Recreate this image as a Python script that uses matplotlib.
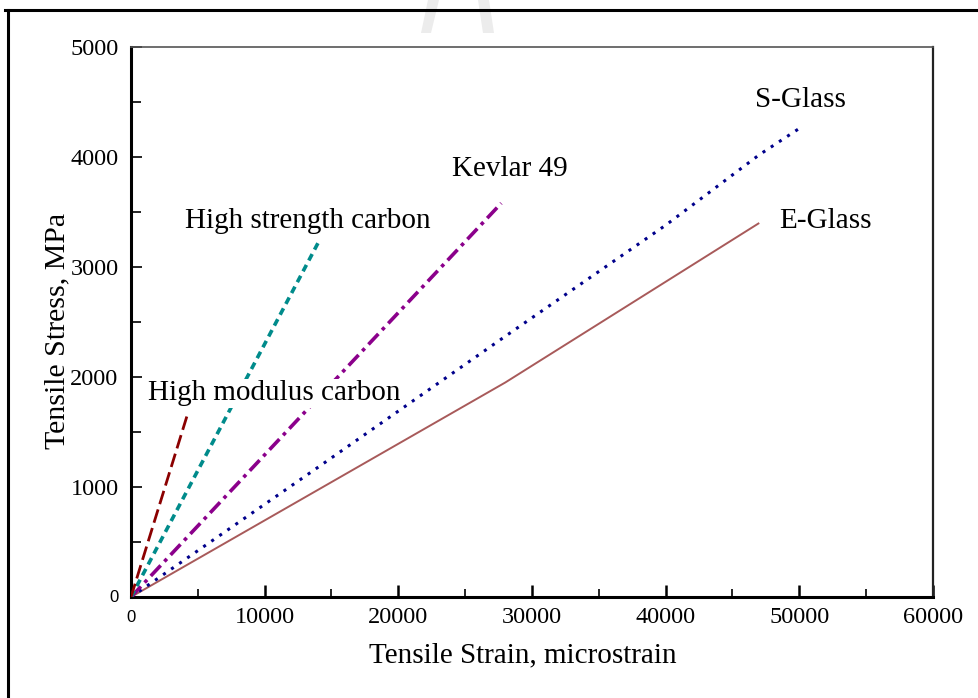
import matplotlib
matplotlib.use("Agg")
import matplotlib.pyplot as plt
from matplotlib.lines import Line2D
from matplotlib.patches import Polygon

# ---- data (strain in microstrain, stress in MPa) ----
hm_strain = [0, 4200]
hm_stress = [0, 1650]
hs_strain = [0, 14000]
hs_stress = [0, 3220]
kev_strain = [0, 27700]
kev_stress = [0, 3580]
sg_strain = [0, 14000, 28000, 40000, 47000, 50000]
sg_stress = [0, 1180, 2370, 3380, 4020, 4260]
eg_strain = [0, 28000, 47000]
eg_stress = [0, 1950, 3400]

xticks = [0, 10000, 20000, 30000, 40000, 50000, 60000]
yticks = [0, 1000, 2000, 3000, 4000, 5000]

W, H = 979, 698
fig = plt.figure(figsize=(W / 100, H / 100), dpi=100)
serif = ['Liberation Serif', 'DejaVu Serif']
sans = ['Liberation Sans', 'DejaVu Sans']

# watermark strokes (faint)
for pts in ([(428, 0), (439, 0), (431, 33), (421, 33)],
            [(478, 0), (489, 0), (494, 33), (483, 33)]):
    fig.add_artist(Polygon([(x / W, 1 - y / H) for x, y in pts], closed=True,
                           transform=fig.transFigure, facecolor='#ececec',
                           edgecolor='none', zorder=0))

# figure frame (top and left only)
fig.add_artist(Line2D([5 / W, 1.0], [1 - 10 / H, 1 - 10 / H], color='black', lw=2.2,
                      transform=fig.transFigure))
fig.add_artist(Line2D([8.5 / W, 8.5 / W], [1 - 10 / H, 0], color='black', lw=2.2,
                      transform=fig.transFigure))

ax = fig.add_axes([131 / W, 1 - 597 / H, (933 - 131) / W, (597 - 47) / H])
ax.set_facecolor('white')

ax.plot(eg_strain, eg_stress, color='#a85a5a', lw=1.4, solid_capstyle='butt', zorder=3)
ax.plot(sg_strain, sg_stress, color='#00008b', lw=2.2, linestyle=(0, (1, 2.2)), zorder=3)
ax.plot(kev_strain, kev_stress, color='#8b008b', lw=2.6, linestyle=(0, (4, 1.5, 1, 1.5)), zorder=3)
ax.plot(hs_strain, hs_stress, color='#008b8b', lw=2.6, linestyle=(0, (2, 1.4)), zorder=3)
ax.plot(hm_strain, hm_stress, color='#8b0000', lw=2.0, linestyle=(0, (5, 2)), zorder=3)

ax.set_xlim(0, 60000)
ax.set_ylim(0, 5000)

ax.set_xticks(xticks)
ax.set_yticks(yticks)
ax.set_xticks([5000, 15000, 25000, 35000, 45000, 55000], minor=True)
ax.set_yticks([500, 1500, 2500, 3500, 4500], minor=True)
ax.set_xticklabels(['' if v == 0 else str(v) for v in xticks], fontfamily=serif, fontsize=17.5)
ax.set_yticklabels(['' if v == 0 else str(v) for v in yticks], fontfamily=serif, fontsize=17.5)
ax.tick_params(axis='both', which='both', direction='in', top=False, right=False, color='black')
ax.tick_params(axis='x', which='major', length=9, width=1.8, pad=7)
ax.tick_params(axis='x', which='minor', length=6, width=1.2)
ax.tick_params(axis='y', which='major', length=8, width=1.2, pad=9)
ax.tick_params(axis='y', which='minor', length=7, width=1.2)

# the zero labels are set in a small sans-serif face
ax.annotate(str(xticks[0]), xy=(xticks[0], 0), xycoords=('data', 'axes fraction'),
            xytext=(0, -9), textcoords='offset points', ha='center', va='top',
            fontfamily=sans, fontsize=12)
ax.annotate(str(yticks[0]), xy=(0, yticks[0]), xycoords=('axes fraction', 'data'),
            xytext=(-9, 0), textcoords='offset points', ha='right', va='center',
            fontfamily=sans, fontsize=12)

ax.spines['left'].set_linewidth(2.2)
ax.spines['bottom'].set_linewidth(2.2)
ax.spines['top'].set_linewidth(1.2)
ax.spines['right'].set_linewidth(1.6)
ax.spines['top'].set_color('#555555')
ax.spines['right'].set_color('#222222')

ax.set_xlabel('Tensile Strain, microstrain', fontfamily=serif, fontsize=21)
ax.xaxis.set_label_coords((523 - 131) / (933 - 131), -(655 - 597) / (597 - 47))
ax.xaxis.label.set_va('center')
ax.set_ylabel('Tensile Stress, MPa', fontfamily=serif, fontsize=21.5)
ax.yaxis.set_label_coords(-(131 - 57) / (933 - 131), (597 - 331) / (597 - 47))
ax.yaxis.label.set_va('center')

tkw = dict(fontfamily=serif, fontsize=21, va='center', ha='left', zorder=5)
ax.text(1270, 1850, 'High modulus carbon',
        bbox=dict(facecolor='white', edgecolor='none', pad=1), **tkw)
ax.text(4040, 3420, 'High strength carbon', **tkw)
ax.text(24000, 3895, 'Kevlar 49', **tkw)
ax.text(46700, 4515, 'S-Glass', **tkw)
ax.text(48500, 3420, 'E-Glass', **tkw)

fig.savefig('out.png', dpi=100, facecolor='white')
